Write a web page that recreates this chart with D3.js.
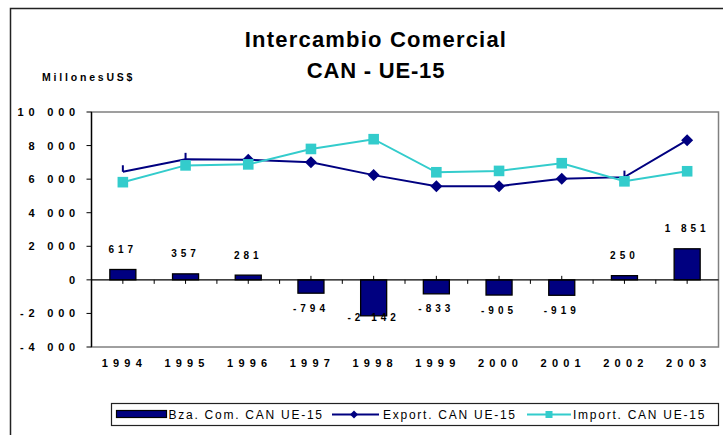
<!DOCTYPE html>
<html>
<head>
<meta charset="utf-8">
<script src="https://cdn.jsdelivr.net/npm/d3@7"></script>
<style>
  body { margin: 0; background: #fff; }
  text { font-family: Arial, "Liberation Sans", sans-serif; }
</style>
</head>
<body>
<svg width="723" height="435"></svg>
<script>
var years = ["1994", "1995", "1996", "1997", "1998", "1999", "2000", "2001", "2002", "2003"];
var balance = [617, 357, 281, -794, -2142, -833, -905, -919, 250, 1851];
var balanceLabels = ["617", "357", "281", "-794", "-2 142", "-833", "-905", "-919", "250", "1 851"];
var exportVals = [6440, 7180, 7160, 7010, 6240, 5580, 5580, 6030, 6120, 8320];
var importVals = [5820, 6820, 6880, 7800, 8380, 6410, 6490, 6950, 5870, 6470];
var yTicks = [-4000, -2000, 0, 2000, 4000, 6000, 8000, 10000];
var yTickLabels = ["-4 000", "-2 000", "0", "2 000", "4 000", "6 000", "8 000", "10 000"];
// export points where the marker came out as a thin stub in the original
var stubYears = ["1994", "1995", "2002"];

var svg = d3.select("svg");
var navy = "#000080", teal = "#33cccc";

// note: "top" is taken by window.top, so plot edges get their own names
var plotL = 91.5, plotR = 718.5, plotT = 112, plotB = 347;

var x = d3.scaleBand().domain(years).range([plotL, plotR]).padding(0);
var y = d3.scaleLinear().domain([-4000, 10000]).range([plotB, plotT]);
var barW = x.bandwidth() * 0.415;
var cx = function(d) { return x(d) + x.bandwidth() / 2; };

// outer frame (runs off the right/bottom edge)
svg.append("rect")
    .attr("x", 10.5).attr("y", 8.5)
    .attr("width", 800).attr("height", 500)
    .style("fill", "none").style("stroke", "#222").style("stroke-width", 1.5);

// titles
svg.append("text").attr("x", 376).attr("y", 47)
    .attr("text-anchor", "middle")
    .style("font-size", "22px").style("font-weight", "bold").style("letter-spacing", "1.2px")
    .text("Intercambio Comercial");
svg.append("text").attr("x", 376).attr("y", 77.5)
    .attr("text-anchor", "middle")
    .style("font-size", "22px").style("font-weight", "bold").style("letter-spacing", "0.8px")
    .text("CAN - UE-15");
svg.append("text").attr("x", 42).attr("y", 81)
    .style("font-size", "10.5px").style("font-weight", "bold").style("letter-spacing", "2.8px")
    .text("MillonesUS$");

// plot area border
svg.append("rect")
    .attr("x", plotL).attr("y", plotT)
    .attr("width", plotR - plotL).attr("height", plotB - plotT)
    .style("fill", "#fff").style("stroke", "#808080").style("stroke-width", 1.5);

// y axis
var yAxis = svg.append("g");
yAxis.append("line")
    .attr("x1", plotL).attr("x2", plotL).attr("y1", plotT).attr("y2", plotB)
    .style("stroke", "#000").style("stroke-width", 1.3);
yAxis.selectAll("line.tick").data(yTicks).enter().append("line")
    .attr("class", "tick")
    .attr("x1", plotL - 5).attr("x2", plotL)
    .attr("y1", function(d) { return y(d); }).attr("y2", function(d) { return y(d); })
    .style("stroke", "#000").style("stroke-width", 1);
yAxis.selectAll("text").data(yTicks).enter().append("text")
    .attr("x", 80)
    .attr("y", function(d) { return y(d) + 4; })
    .attr("text-anchor", "end")
    .style("font-size", "11px").style("font-weight", "bold").style("letter-spacing", "4.8px")
    .style("fill", "#000")
    .text(function(d, i) { return yTickLabels[i]; });

// x axis at zero with ticks
var x0 = y(0);
svg.selectAll("line.bound").data(years.slice(1)).enter().append("line")
    .attr("x1", function(d) { return x(d); }).attr("x2", function(d) { return x(d); })
    .attr("y1", x0).attr("y2", x0 + 4)
    .style("stroke", "#000");
svg.selectAll("line.ctick").data(years).enter().append("line")
    .attr("x1", cx).attr("x2", cx)
    .attr("y1", x0 - 4).attr("y2", x0 + 4)
    .style("stroke", "#000");

// balance bars
svg.selectAll("rect.bar").data(years).enter().append("rect")
    .attr("x", function(d) { return cx(d) - barW / 2; })
    .attr("y", function(d, i) { return y(Math.max(0, balance[i])); })
    .attr("width", barW)
    .attr("height", function(d, i) { return Math.abs(y(balance[i]) - y(0)); })
    .style("fill", navy).style("stroke", "#000").style("stroke-width", 1.3);

svg.append("line")
    .attr("x1", plotL).attr("x2", plotR).attr("y1", x0).attr("y2", x0)
    .style("stroke", "#000").style("stroke-width", 1.3);

// x labels
svg.selectAll("text.year").data(years).enter().append("text")
    .attr("x", function(d) { return cx(d) + 1.5; })
    .attr("y", 367)
    .attr("text-anchor", "middle")
    .style("font-size", "11px").style("font-weight", "bold").style("letter-spacing", "5.2px")
    .style("fill", "#000")
    .text(function(d) { return d; });

// bar labels
svg.selectAll("text.blabel").data(years).enter().append("text")
    .attr("x", cx)
    .attr("y", function(d, i) {
      var v = balance[i];
      if (v >= 0) return y(v) - 16.5;
      return Math.min(y(v) + 18.5, y(0) + 41);
    })
    .attr("text-anchor", "middle")
    .style("font-size", "10px").style("font-weight", "bold").style("letter-spacing", "4px")
    .style("fill", "#000")
    .text(function(d, i) { return balanceLabels[i]; });

// lines
var lineGen = function(vals) {
  return d3.line()
    .x(function(d) { return cx(d); })
    .y(function(d, i) { return y(vals[i]); })(years);
};
var diamond = "M0,-6L6,0L0,6L-6,0Z";

svg.append("path").attr("d", lineGen(exportVals))
    .style("fill", "none").style("stroke", navy).style("stroke-width", 2);
svg.selectAll("path.exp").data(years).enter().append("path")
    .attr("transform", function(d, i) { return "translate(" + cx(d) + "," + y(exportVals[i]) + ")"; })
    .attr("d", function(d) { return stubYears.indexOf(d) >= 0 ? "M-1,-6.5L1,-6.5L1,0L-1,0Z" : diamond; })
    .style("fill", navy);

svg.append("path").attr("d", lineGen(importVals))
    .style("fill", "none").style("stroke", teal).style("stroke-width", 2);
svg.selectAll("rect.imp").data(years).enter().append("rect")
    .attr("x", function(d) { return cx(d) - 5.3; })
    .attr("y", function(d, i) { return y(importVals[i]) - 5.3; })
    .attr("width", 10.6).attr("height", 10.6)
    .style("fill", teal);

// legend
var lg = svg.append("g");
lg.append("rect")
    .attr("x", 111.5).attr("y", 403.5).attr("width", 607).attr("height", 22)
    .style("fill", "#fff").style("stroke", "#222").style("stroke-width", 1.2);
lg.append("rect")
    .attr("x", 116.5).attr("y", 410.5).attr("width", 50).attr("height", 7)
    .style("fill", navy).style("stroke", "#000").style("stroke-width", 1.2);
lg.append("line").attr("x1", 332).attr("x2", 379).attr("y1", 414.5).attr("y2", 414.5)
    .style("stroke", navy).style("stroke-width", 2);
lg.append("path").attr("transform", "translate(354,414.5)").attr("d", "M0,-4L4,0L0,4L-4,0Z")
    .style("fill", navy);
lg.append("line").attr("x1", 527).attr("x2", 571).attr("y1", 414.5).attr("y2", 414.5)
    .style("stroke", teal).style("stroke-width", 2);
lg.append("rect").attr("x", 545.5).attr("y", 411).attr("width", 7).attr("height", 7)
    .style("fill", teal);
var legendText = [["Bza. Com. CAN UE-15", 168.5], ["Export. CAN UE-15", 383], ["Import. CAN UE-15", 573]];
lg.selectAll("text").data(legendText).enter().append("text")
    .attr("x", function(d) { return d[1]; })
    .attr("y", 419)
    .style("font-size", "12px").style("letter-spacing", "1.75px")
    .style("fill", "#000")
    .text(function(d) { return d[0]; });
</script>
</body>
</html>
